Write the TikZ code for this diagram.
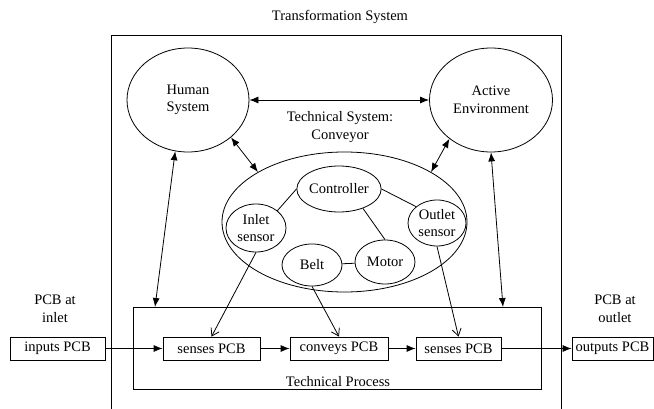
\documentclass[tikz,border=0pt]{standalone}
\usepackage{fontspec}
\setmainfont{Liberation Serif}
\usetikzlibrary{shapes.geometric,arrows.meta}
\tikzset{
  sysell/.style={draw,ellipse,inner sep=0pt,align=center},
  partell/.style={draw,ellipse,inner sep=0pt,minimum width=60,minimum height=46,align=center},
  procbox/.style={draw,rectangle,inner sep=0pt,minimum height=23},
  both/.style={{Latex[length=9pt,width=7pt]}-{Latex[length=9pt,width=7pt]}},
  flow/.style={-{Latex[length=9pt,width=7pt]}},
  sense/.style={-{Straight Barb[length=7pt,width=9pt]}}
}
\begin{document}
\begin{tikzpicture}[x=1pt,y=-1pt,line width=0.8pt,font=\fontsize{14.5}{17.5}\selectfont]
			      \useasboundingbox (0,0) rectangle (654,409);
			      % transformation system frame
			      \draw (111,409)|-(561,35)--(561,409);
			      \node (title) at (340,17) {Transformation System};
			      \node[sysell,minimum width=122,minimum height=104] (human) at (188,100) {Human\\System};
			      \node[sysell,minimum width=123,minimum height=104] (active) at (491,100) {Active\\Environment};
			      \node[align=center] (tslabel) at (340,127) {Technical System:\\Conveyor};
			      \node[sysell,minimum width=245,minimum height=140] (conv) at (344.5,222) {};
			      % parts of the conveyor
			      \node[partell,minimum width=59] (ctrl) at (339,189) {Controller};
			      \node[partell,minimum height=48] (inlet) at (256,228) {Inlet\\sensor};
			      \node[partell,minimum width=58] (outlet) at (437,223) {Outlet\\sensor};
			      \node[partell,minimum height=44] (motor) at (385,262) {Motor};
			      \node[partell,minimum height=42] (belt) at (312,265) {Belt};
			      \draw (ctrl.180)--(inlet.39);
			      \draw (ctrl.0)--(outlet.142);
			      \draw (ctrl.-39)--(motor.90);
			      \draw (belt)--(motor);
			      \draw[both] (human)--(active);
			      \draw[both] (human.-41)--(conv.150);
			      \draw[both] (active.223)--(conv.30);
			      % technical process
			      \node[procbox,minimum width=408,minimum height=82] (tp) at (337,348) {};
			      \node (tplabel) at (338,382) {Technical Process};
			      \coordinate (tpl) at (155,307);
			      \coordinate (tpr) at (503,307);
			      \draw[both] (human.256)--(tpl);
			      \draw[both] (active.270)--(tpr);
			      \node[procbox,minimum width=95] (inp) at (57.5,348.5) {inputs PCB};
			      \node[procbox,minimum width=97] (sen1) at (211.5,348.5) {senses PCB};
			      \node[procbox,minimum width=98] (cvy) at (339,348.5) {conveys PCB};
			      \node[procbox,minimum width=85] (sen2) at (458.5,348.5) {senses PCB};
			      \node[procbox,minimum width=81] (outp) at (612.5,348.5) {outputs PCB};
			      \node[align=center] (inlbl) at (55,309) {PCB at\\inlet};
			      \node[align=center] (outlbl) at (615,309) {PCB at\\outlet};
			      \foreach \a/\b in {inp/sen1,sen1/cvy,cvy/sen2,sen2/outp}
				      {\draw[flow] (\a.east)--(\b.west);}
			      \draw[sense] (inlet.south)--(sen1.north);
			      \draw[sense] (belt.south)--(cvy.north);
			      \draw[sense] (outlet.south)--(sen2.north);
		      \end{tikzpicture}
\end{document}
